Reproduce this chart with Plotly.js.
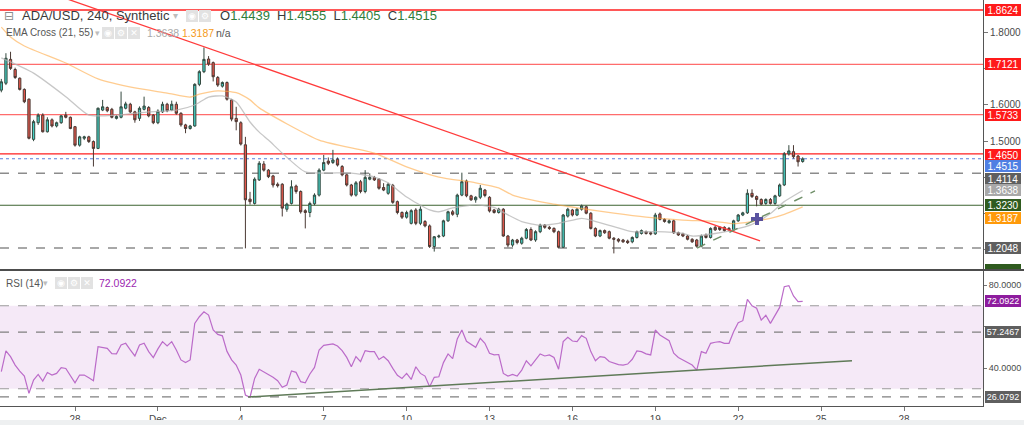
<!DOCTYPE html>
<html>
<head>
<meta charset="utf-8">
<script src="https://cdn.plot.ly/plotly-3.0.1.min.js"></script>
<style>
html,body{margin:0;padding:0;background:#fff;}
#chart{width:1024px;height:425px;}
</style>
</head>
<body>
<div id="chart"></div>
<script>
// ---------------- DATA ----------------
const firstCandle = '2021-11-25T08:00:00Z';
const candleHours = 4;

const open = [
1.641,1.660,1.726,1.698,1.674,1.643,1.616,1.505,1.551,1.572,
1.526,1.559,1.542,1.551,1.572,1.566,1.540,1.489,1.508,1.512,
1.499,1.480,1.586,1.593,1.588,1.563,1.566,1.591,1.602,1.581,
1.563,1.588,1.593,1.572,1.551,1.581,1.602,1.586,1.602,1.577,
1.545,1.535,1.542,1.657,1.692,1.727,1.717,1.676,1.652,1.662,
1.614,1.563,1.551,1.490,1.340,1.328,1.393,1.437,1.420,1.404,
1.381,1.381,1.312,1.328,1.376,1.361,1.308,1.303,1.327,1.351,
1.420,1.445,1.441,1.450,1.430,1.407,1.379,1.351,1.388,1.361,
1.395,1.400,1.395,1.372,1.356,1.378,1.333,1.303,1.290,1.273,
1.310,1.273,1.278,1.266,1.209,1.236,1.238,1.280,1.305,1.298,
1.351,1.390,1.349,1.338,1.345,1.365,1.345,1.310,1.303,1.312,
1.238,1.213,1.227,1.218,1.232,1.256,1.227,1.250,1.268,1.262,
1.259,1.250,1.207,1.293,1.310,1.296,1.312,1.319,1.301,1.259,
1.238,1.253,1.250,1.232,1.229,1.227,1.224,1.222,1.234,1.245,
1.250,1.247,1.244,1.299,1.284,1.275,1.280,1.247,1.244,1.238,
1.229,1.227,1.210,1.241,1.234,1.262,1.262,1.262,1.259,1.255,
1.280,1.296,1.302,1.356,1.347,1.339,1.328,1.339,1.328,1.349,
1.379,1.465,1.471,1.459,1.4439];
const high = [
1.672,1.743,1.747,1.703,1.676,1.646,1.618,1.559,1.577,1.577,
1.566,1.563,1.554,1.572,1.581,1.568,1.542,1.515,1.515,1.515,
1.502,1.593,1.614,1.596,1.592,1.572,1.637,1.609,1.606,1.584,
1.596,1.623,1.597,1.575,1.588,1.609,1.606,1.612,1.609,1.580,
1.548,1.545,1.660,1.696,1.759,1.735,1.720,1.680,1.665,1.665,
1.617,1.595,1.555,1.512,1.360,1.400,1.445,1.445,1.423,1.407,
1.386,1.384,1.330,1.392,1.380,1.364,1.312,1.333,1.356,1.425,
1.462,1.455,1.476,1.455,1.434,1.410,1.382,1.390,1.393,1.420,
1.411,1.404,1.398,1.384,1.385,1.382,1.336,1.306,1.308,1.312,
1.315,1.320,1.282,1.270,1.238,1.242,1.283,1.308,1.310,1.355,
1.413,1.394,1.352,1.348,1.379,1.368,1.348,1.313,1.316,1.315,
1.241,1.230,1.230,1.236,1.260,1.262,1.254,1.272,1.271,1.266,
1.262,1.253,1.299,1.316,1.313,1.315,1.325,1.322,1.304,1.262,
1.256,1.256,1.253,1.235,1.232,1.230,1.228,1.237,1.253,1.256,
1.253,1.250,1.302,1.303,1.287,1.284,1.283,1.250,1.247,1.241,
1.232,1.230,1.242,1.245,1.262,1.266,1.265,1.265,1.263,1.283,
1.299,1.305,1.367,1.367,1.350,1.342,1.342,1.343,1.352,1.383,
1.470,1.489,1.489,1.462,1.4555];
const low = [
1.635,1.655,1.697,1.672,1.640,1.605,1.505,1.500,1.545,1.524,
1.524,1.538,1.538,1.548,1.563,1.533,1.485,1.485,1.503,1.495,
1.430,1.478,1.583,1.580,1.563,1.560,1.563,1.588,1.578,1.551,
1.556,1.585,1.566,1.547,1.547,1.578,1.580,1.583,1.573,1.540,
1.522,1.532,1.540,1.652,1.688,1.708,1.665,1.650,1.648,1.612,
1.555,1.530,1.488,1.204,1.325,1.325,1.390,1.416,1.398,1.372,
1.372,1.292,1.305,1.325,1.355,1.300,1.259,1.290,1.323,1.347,
1.417,1.434,1.437,1.430,1.403,1.375,1.347,1.347,1.356,1.356,
1.392,1.390,1.366,1.362,1.352,1.327,1.298,1.285,1.286,1.270,
1.268,1.268,1.262,1.205,1.195,1.232,1.235,1.277,1.294,1.290,
1.348,1.345,1.335,1.330,1.340,1.345,1.303,1.300,1.300,1.236,
1.207,1.208,1.215,1.214,1.229,1.224,1.222,1.246,1.258,1.255,
1.246,1.205,1.205,1.289,1.292,1.293,1.308,1.298,1.256,1.235,
1.235,1.244,1.229,1.190,1.220,1.219,1.216,1.218,1.231,1.242,
1.242,1.240,1.241,1.281,1.275,1.272,1.244,1.238,1.235,1.226,
1.219,1.206,1.207,1.231,1.231,1.252,1.252,1.250,1.251,1.252,
1.277,1.293,1.299,1.343,1.320,1.323,1.324,1.325,1.324,1.346,
1.376,1.460,1.452,1.430,1.4405];
const close = [
1.664,1.729,1.701,1.676,1.643,1.609,1.508,1.554,1.572,1.526,
1.559,1.542,1.551,1.570,1.566,1.535,1.489,1.512,1.512,1.499,
1.480,1.591,1.595,1.584,1.566,1.568,1.595,1.603,1.581,1.559,
1.591,1.597,1.570,1.551,1.583,1.602,1.584,1.602,1.577,1.545,
1.535,1.542,1.657,1.692,1.726,1.713,1.678,1.655,1.662,1.616,
1.561,1.554,1.492,1.338,1.333,1.395,1.439,1.420,1.402,1.379,
1.377,1.315,1.326,1.374,1.361,1.305,1.303,1.328,1.351,1.420,
1.441,1.439,1.448,1.434,1.407,1.379,1.351,1.385,1.361,1.400,
1.400,1.393,1.370,1.365,1.381,1.331,1.303,1.290,1.303,1.308,
1.273,1.312,1.266,1.209,1.236,1.238,1.280,1.305,1.298,1.351,
1.388,1.349,1.338,1.345,1.370,1.350,1.307,1.303,1.312,1.238,
1.213,1.227,1.220,1.232,1.256,1.227,1.250,1.268,1.262,1.259,
1.250,1.207,1.296,1.312,1.296,1.312,1.321,1.301,1.259,1.238,
1.253,1.247,1.232,1.229,1.224,1.222,1.220,1.234,1.250,1.253,
1.245,1.244,1.296,1.284,1.278,1.280,1.247,1.241,1.238,1.229,
1.222,1.210,1.238,1.234,1.259,1.255,1.256,1.253,1.255,1.280,
1.296,1.302,1.356,1.347,1.339,1.326,1.339,1.328,1.349,1.379,
1.465,1.473,1.457,1.443,1.4515];

const rsi = [
38.2,48.2,45.5,41.4,38.5,36.1,27.8,34.2,36.9,33.7,
37.8,36.6,37.4,40.2,39.8,36.0,32.9,36.6,36.6,35.3,
33.9,50.3,49.9,49.5,46.9,46.8,51.1,51.9,48.7,45.8,
51.1,51.9,47.9,45.0,49.2,52.7,50.6,52.7,48.7,43.9,
42.6,43.9,61.5,64.7,67.1,65.5,58.3,56.2,55.5,48.0,
43.9,41.4,36.6,27.0,25.9,35.0,39.4,38.2,37.1,35.5,
33.9,30.7,31.8,38.6,37.9,33.4,32.9,37.1,40.3,48.7,
50.9,51.1,51.6,50.6,48.4,45.1,40.6,45.5,43.1,48.4,
47.9,47.9,44.1,45.5,43.5,39.8,36.5,35.0,37.4,34.5,
40.6,37.4,36.1,31.0,35.5,35.8,42.6,46.8,44.5,54.0,
58.3,52.9,51.6,50.0,54.3,51.9,47.1,46.3,46.5,37.4,
36.1,36.9,36.1,39.0,43.5,41.0,43.9,46.8,45.8,46.3,
45.1,39.4,52.7,54.8,53.0,52.7,55.6,54.3,47.9,43.5,
45.5,45.1,43.1,42.2,41.6,41.4,41.9,44.2,48.2,47.9,
46.8,46.3,58.3,55.9,54.6,53.2,47.1,45.1,43.9,42.7,
41.4,39.0,47.9,47.1,51.9,52.4,52.7,51.9,51.9,57.5,
61.8,62.8,73.1,70.0,68.8,63.1,65.4,61.5,65.1,69.2,
79.2,79.7,74.7,72.0,72.0922];

// EMA(21) - grey, sampled at candle indices
const emaFastIdx = [0,7,14,19,25,32,38,42,45,48,51,54,56,58,61,66,71,76,81,84,88,93,95,98,103,107,108,113,117,121,126,128,133,137,142,148,150,155,159,163,167,170,174];
const emaFastVal = [1.730,1.688,1.623,1.572,1.572,1.581,1.586,1.600,1.622,1.625,1.608,1.553,1.525,1.503,1.467,1.415,1.412,1.412,1.401,1.385,1.346,1.310,1.305,1.316,1.324,1.317,1.310,1.278,1.268,1.273,1.287,1.282,1.264,1.250,1.250,1.245,1.238,1.245,1.255,1.270,1.300,1.333,1.3638];
// EMA(55) - orange
const emaSlowIdx = [0,2,5,14,21,29,36,41,43,47,51,54,56,69,81,88,95,103,108,111,119,126,133,140,148,155,159,163,167,170,174];
const emaSlowVal = [1.815,1.788,1.763,1.716,1.672,1.647,1.633,1.622,1.630,1.639,1.634,1.614,1.592,1.503,1.467,1.429,1.401,1.385,1.371,1.351,1.328,1.314,1.301,1.290,1.282,1.278,1.272,1.278,1.287,1.298,1.3187];

// drawn levels / objects
const redLevels = [1.8624, 1.4650];
const lightRedLevels = [1.7121, 1.5733];
const greyDashedLevels = [1.4114, 1.2048];
const greenLevel = 1.3230;
const rsiBand = [30, 70];
const rsiLevels = [57.2467, 26.0792];
const redTrendTime = ['2021-11-26 17:36', '2021-12-22 19:00'];
const redTrendPrice = [1.919, 1.2243];
const greenTrendTime = ['2021-12-20 12:15', '2021-12-24 18:40'];
const greenTrendPrice = [1.2048, 1.3624];
const rsiTrendTime = ['2021-12-04 06:15', '2021-12-26 02:50'];
const rsiTrendValue = [26.02, 43.52];
const crossTime = ['2021-12-22 16:20'];
const crossPrice = [1.285];

const xTickDates = ['2021-11-28','2021-12-01','2021-12-04','2021-12-07','2021-12-10','2021-12-13','2021-12-16','2021-12-19','2021-12-22','2021-12-25','2021-12-28'];
const xTickText = ['28','Dec','4','7','10','13','16','19','22','25','28'];
const priceTicks = [1.2, 1.3, 1.4, 1.5, 1.6, 1.7, 1.8];
const priceTickText = ['', '', '', '1.5000', '1.6000', '', '1.8000'];   // others hidden under price labels
const rsiTicks = [40, 60, 80];
const rsiTickText = ['40.0000', '', '80.0000'];

// ---------------- BUILD ----------------
function candleTime(i){
  const t = new Date(Date.parse(firstCandle) + i*candleHours*3600e3);
  return t.toISOString().slice(0,16).replace('T',' ');
}
const times = close.map((_, i) => candleTime(i));
const lastClose = close[close.length-1];
const lastRsi = rsi[rsi.length-1];
const lastFast = emaFastVal[emaFastVal.length-1];
const lastSlow = emaSlowVal[emaSlowVal.length-1];

const FONT = 'Liberation Sans, Arial, sans-serif';
const PW = 983, PH = 406;
const px = v => v / PW;
const py = v => 1 - v / PH;

const traces = [
  {type:'scatter', mode:'lines', x: emaFastIdx.map(candleTime), y: emaFastVal, xaxis:'x', yaxis:'y',
   line:{color:'rgba(180,180,180,0.75)', width:1.3, shape:'spline', smoothing:0.6}, hoverinfo:'skip'},
  {type:'scatter', mode:'lines', x: emaSlowIdx.map(candleTime), y: emaSlowVal, xaxis:'x', yaxis:'y',
   line:{color:'rgba(255,170,70,0.6)', width:1.3, shape:'spline', smoothing:0.6}, hoverinfo:'skip'},
  {type:'candlestick', x: times, open, high, low, close, xaxis:'x', yaxis:'y',
   increasing:{fillcolor:'#45cfc4', line:{color:'#34493f', width:1}},
   decreasing:{fillcolor:'#e5574c', line:{color:'#4b3a34', width:1}},
   whiskerwidth:0, hoverinfo:'skip'},
  {type:'scatter', mode:'markers', x: crossTime, y: crossPrice, xaxis:'x', yaxis:'y',
   marker:{symbol:'cross', size:10, color:'rgba(72,64,150,0.9)'}, hoverinfo:'skip'},
  {type:'scatter', mode:'lines', x: times, y: rsi, xaxis:'x', yaxis:'y2',
   line:{color:'#bb6bc9', width:1.2}, hoverinfo:'skip'}
];

const hline = (y, color, width, dash, yref, opacity) => ({type:'line', xref:'paper', x0:0, x1:1, yref:yref||'y', y0:y, y1:y,
  line:{color, width, dash:dash||'solid'}, opacity: opacity==null?1:opacity, layer:'below'});

const shapes = [];
redLevels.forEach(v => shapes.push(hline(v, '#ff1f1f', 1.3)));
lightRedLevels.forEach(v => shapes.push(hline(v, '#ff1f1f', 1.3, 'solid', 'y', 0.65)));
shapes.push(hline(lastClose, '#5b7fdc', 1.2, 'dot'));
greyDashedLevels.forEach(v => shapes.push(hline(v, '#8c8c8c', 1.4, 'dash')));
shapes.push(hline(greenLevel, '#3d6330', 1.2));
shapes.push({type:'line', xref:'x', yref:'y', x0:redTrendTime[0], x1:redTrendTime[1], y0:redTrendPrice[0], y1:redTrendPrice[1],
  line:{color:'#ff3b3b', width:1.3}, layer:'above'});
shapes.push({type:'line', xref:'x', yref:'y', x0:greenTrendTime[0], x1:greenTrendTime[1], y0:greenTrendPrice[0], y1:greenTrendPrice[1],
  line:{color:'#6f8f68', width:1.4, dash:'dash'}, layer:'above'});
// RSI
shapes.push({type:'rect', xref:'paper', x0:0, x1:1, yref:'y2', y0:rsiBand[0], y1:rsiBand[1],
  fillcolor:'rgba(156,39,176,0.1)', line:{width:0}, layer:'below'});
rsiBand.forEach(v => shapes.push(hline(v, '#9a9a9a', 1.2, 'dash', 'y2')));
rsiLevels.forEach(v => shapes.push(hline(v, '#808080', 1.2, 'dash', 'y2')));
shapes.push({type:'line', xref:'x', yref:'y2', x0:rsiTrendTime[0], x1:rsiTrendTime[1], y0:rsiTrendValue[0], y1:rsiTrendValue[1],
  line:{color:'#5f7a58', width:1.5}, layer:'above'});
// pane divider, hidden label fragment, bottom band
shapes.push({type:'line', xref:'paper', yref:'paper', x0:0, x1:1024/PW, y0:py(270), y1:py(270), line:{color:'#4d4d4d', width:2}, layer:'above'});
shapes.push({type:'rect', xref:'paper', yref:'paper', x0:px(985), x1:px(1021), y0:py(269), y1:py(264), fillcolor:'#2f5b1f', line:{width:0}, layer:'above'});
shapes.push({type:'rect', xref:'paper', yref:'paper', x0:0, x1:1024/PW, y0:py(420), y1:py(426), fillcolor:'#eef0f1', line:{width:0}, layer:'above'});

function priceLabel(value, yref, bg, shift, size){
  return {xref:'paper', x:1, xanchor:'left', xshift:2, yref:yref, y:value, yanchor:'middle', yshift:shift||0,
    text:value.toFixed(4), showarrow:false, bgcolor:bg, width:36, height:12, borderpad:0, borderwidth:0,
    font:{family:FONT, size:size||10, color:'#fff'}};
}
function txt(x, y, text, size, color, family){
  return {xref:'paper', yref:'paper', x:px(x), y:py(y), xanchor:'left', yanchor:'middle', text:text, showarrow:false,
    font:{family:family||FONT, size:size, color:color}};
}
function icon(x, y, glyph){
  return {xref:'paper', yref:'paper', x:px(x), y:py(y), xanchor:'left', yanchor:'middle', text:glyph, showarrow:false,
    width:12, height:12, bgcolor:'#e2e2e2', borderpad:0, borderwidth:0, font:{family:'DejaVu Sans', size:9, color:'#fff'}};
}
const green = '#2f7d3a';
const ohlc = ['O','H','L','C'].map((k, j) => k + '<span style="color:' + green + '">' +
  [open, high, low, close][j][close.length-1].toFixed(4) + '</span>').join('&nbsp;&nbsp;');

const annotations = [
  priceLabel(redLevels[0], 'y', '#ff1a1a', 0),
  priceLabel(lightRedLevels[0], 'y', '#ff1a1a', 0),
  priceLabel(lightRedLevels[1], 'y', '#ff1a1a', 0),
  priceLabel(redLevels[1], 'y', '#ff1a1a', -1),
  priceLabel(lastClose, 'y', '#4f7fe3', -7),
  priceLabel(greyDashedLevels[0], 'y', '#5f5f5f', -6),
  priceLabel(lastFast, 'y', '#a8a8a8', 0),
  priceLabel(greenLevel, 'y', '#2f5b1f', 0),
  priceLabel(lastSlow, 'y', '#ff9a0a', -11),
  priceLabel(greyDashedLevels[1], 'y', '#5f5f5f', 0),
  priceLabel(lastRsi, 'y2', '#8e1c9e', 0, 9),
  priceLabel(rsiLevels[0], 'y2', '#5f5f5f', 0, 9),
  priceLabel(rsiLevels[1], 'y2', '#5f5f5f', 0, 9),
  // header row 1
  txt(2, 16, '⊟', 12, '#8a8a8a', 'DejaVu Sans'),
  txt(20, 16, 'ADA/USD, 240, Synthetic', 13, '#3a3a3a'),
  txt(171, 16, '▾', 10, '#bdbdbd', 'DejaVu Sans'),
  icon(186, 16, '◉'), icon(199, 16, '⚙'),
  txt(218, 16, ohlc, 13, '#3a3a3a'),
  // header row 2
  txt(4, 33, 'EMA Cross (21, 55)', 10, '#555'),
  txt(93, 33, '▾', 9, '#bdbdbd', 'DejaVu Sans'),
  icon(102, 33, '◉'), icon(115, 33, '⚙'), icon(128, 33, '✕'),
  txt(145, 33, lastFast.toFixed(4), 10.5, '#aaaaaa'),
  txt(180, 33, lastSlow.toFixed(4), 10.5, '#f59a1b'),
  txt(214, 33, 'n/a', 10.5, '#555'),
  // RSI legend
  txt(4, 283, 'RSI (14)', 10, '#555'),
  txt(41, 283, '▾', 9, '#bdbdbd', 'DejaVu Sans'),
  icon(55, 283, '◉'), icon(68, 283, '⚙'), icon(81, 283, '✕'),
  txt(97, 283, lastRsi.toFixed(4), 10.5, '#9c27b0')
];

const axisFont = {family:FONT, size:10, color:'#4a4a4a'};
const layout = {
  width:1024, height:425,
  margin:{l:0, r:41, t:0, b:19, pad:0},
  paper_bgcolor:'#ffffff', plot_bgcolor:'#ffffff',
  showlegend:false, hovermode:false, dragmode:false,
  xaxis:{type:'date', range:['2021-11-25 06:51','2021-12-30 20:37'], anchor:'y2',
    tickmode:'array', tickvals:xTickDates, ticktext:xTickText,
    ticks:'outside', ticklen:4, tickcolor:'#777', showline:true, linecolor:'#555', linewidth:1,
    showgrid:false, zeroline:false, rangeslider:{visible:false}, tickfont:{family:FONT, size:10, color:'#4a4a4a'}},
  yaxis:{domain:[1-269/PH, 1], range:[1.1469, 1.8900], side:'right', anchor:'x',
    tickmode:'array', tickvals:priceTicks, ticktext:priceTickText, ticks:'outside', ticklen:4, tickcolor:'#777',
    showline:true, linecolor:'#555', linewidth:1, showgrid:false, zeroline:false, tickfont:axisFont},
  yaxis2:{domain:[0, 1-271/PH], range:[21.69, 86.75], side:'right', anchor:'x',
    tickmode:'array', tickvals:rsiTicks, ticktext:rsiTickText, ticks:'outside', ticklen:3, tickcolor:'#777',
    showline:true, linecolor:'#555', linewidth:1, showgrid:false, zeroline:false,
    tickfont:{family:FONT, size:9, color:'#4a4a4a'}},
  shapes: shapes,
  annotations: annotations
};

Plotly.newPlot('chart', traces, layout, {displayModeBar:false, staticPlot:true});
</script>
</body>
</html>
